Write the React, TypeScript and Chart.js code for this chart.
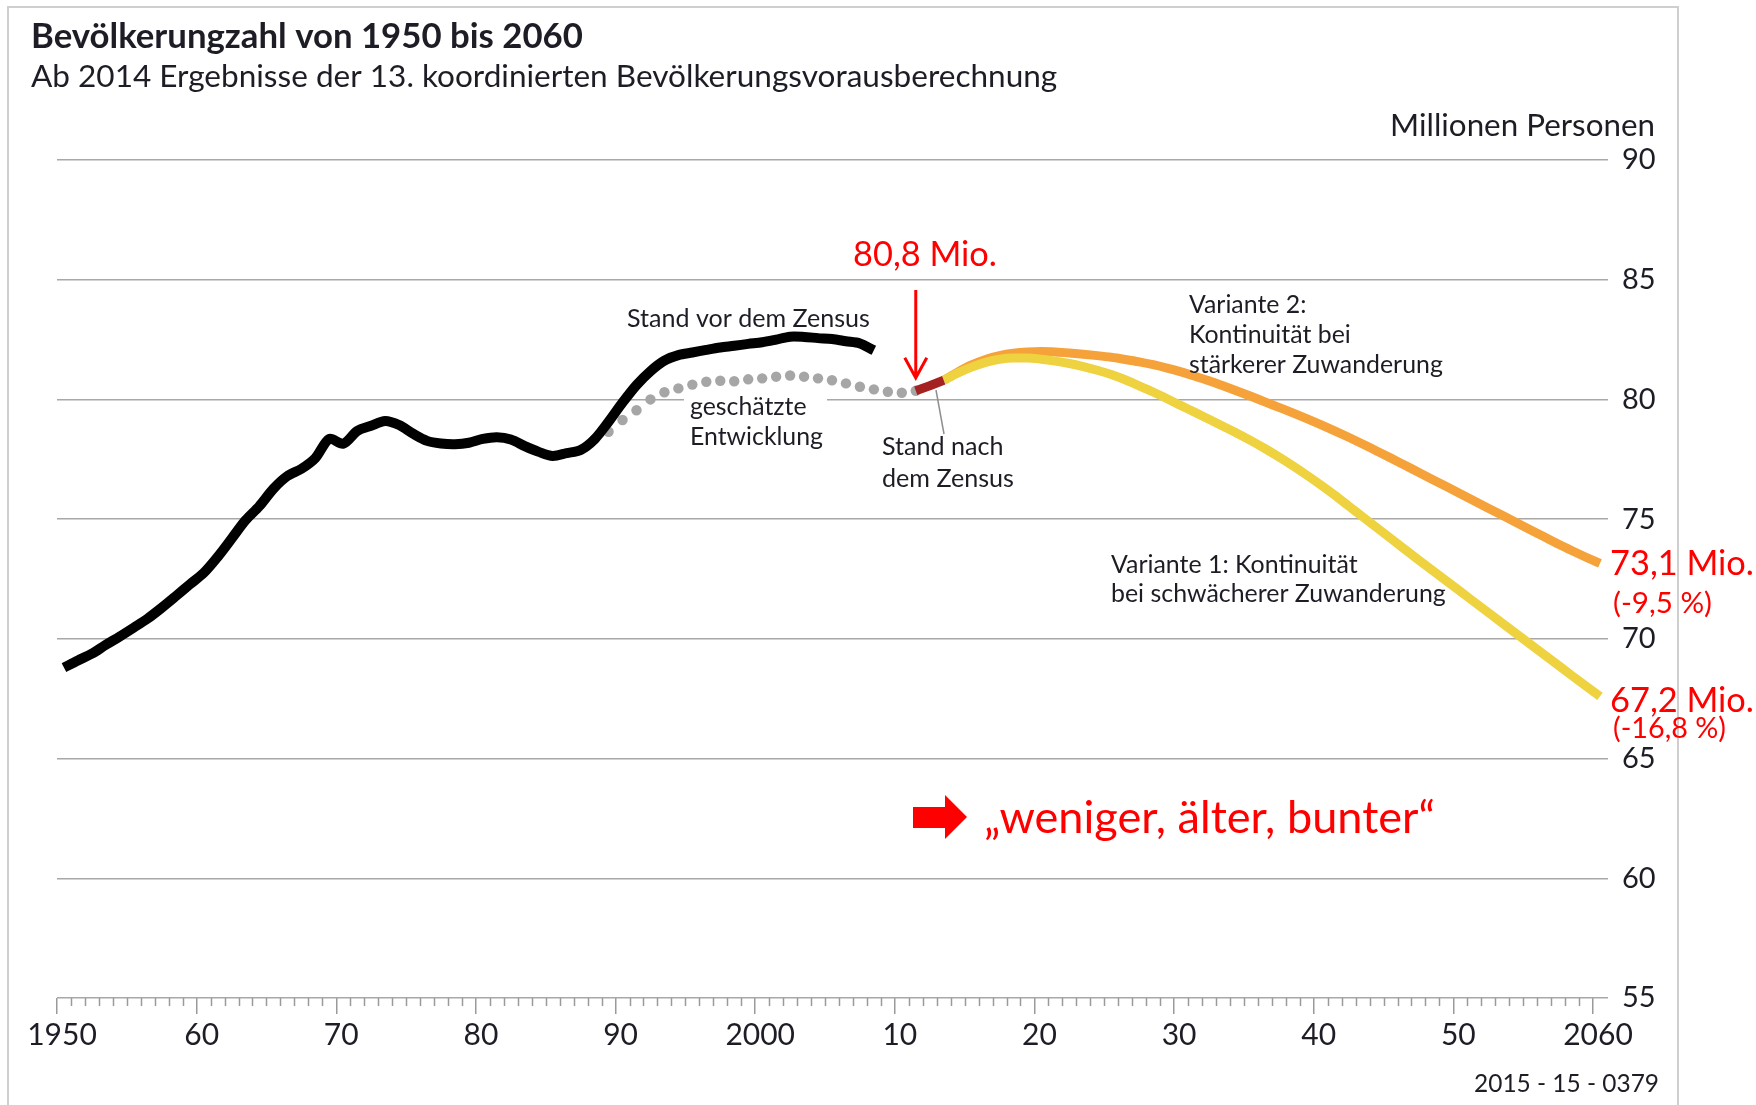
import React, { useEffect, useRef } from "react";
import { Chart, registerables } from "chart.js";

Chart.register(...registerables);

// ---------- data (million persons) ----------
const HIST_START = 1950; // "Stand vor dem Zensus"
const HIST_VALUES = [
  68.8, 69.1, 69.38, 69.75, 70.1, 70.47, 70.85, 71.3, 71.78, 72.27,
  72.75, 73.42, 74.18, 74.95, 75.55, 76.27, 76.8, 77.1, 77.55, 78.35,
  78.15, 78.68, 78.9, 79.1, 78.93, 78.57, 78.27, 78.16, 78.13, 78.19,
  78.35, 78.42, 78.33, 78.05, 77.81, 77.64, 77.76, 77.89, 78.34, 79.07,
  79.87, 80.6, 81.18, 81.62, 81.85, 81.96, 82.07, 82.17, 82.24, 82.32,
  82.39, 82.5, 82.62, 82.61, 82.56, 82.52, 82.43, 82.34, 82.05,
];

const EST_START = 1988; // "geschätzte Entwicklung"
const EST_VALUES = [
  78.34, 78.65, 79.14, 79.55, 80.0, 80.3, 80.46, 80.62, 80.74, 80.78,
  80.76, 80.84, 80.88, 80.95, 81.0, 80.95, 80.88, 80.8, 80.67, 80.53,
  80.42, 80.32, 80.28, 80.36,
];

const CENSUS_START = 2011; // "Stand nach dem Zensus"
const CENSUS_VALUES = [80.36, 80.57, 80.8];

const PROJ_START = 2013;
const VAR1_VALUES = [
  80.8, 81.1, 81.35, 81.55, 81.68, 81.73, 81.73, 81.68, 81.6, 81.5,
  81.37, 81.22, 81.04, 80.82, 80.57, 80.31, 80.03, 79.74, 79.46, 79.17,
  78.88, 78.59, 78.28, 77.95, 77.6, 77.23, 76.84, 76.43, 76.0, 75.55,
  75.1, 74.65, 74.2, 73.75, 73.3, 72.86, 72.42, 71.98, 71.54, 71.1,
  70.66, 70.22, 69.78, 69.34, 68.9, 68.46, 68.03, 67.6,
];
const VAR2_VALUES = [
  80.8, 81.14, 81.44, 81.67, 81.83, 81.93, 81.98, 82.0, 81.98, 81.94,
  81.89, 81.83, 81.76, 81.67, 81.57, 81.45, 81.31, 81.15, 80.97, 80.78,
  80.57, 80.35, 80.13, 79.9, 79.67, 79.44, 79.2, 78.95, 78.69, 78.42,
  78.14, 77.85, 77.56, 77.26, 76.96, 76.66, 76.36, 76.06, 75.76, 75.46,
  75.16, 74.86, 74.56, 74.26, 73.96, 73.68, 73.41, 73.15,
];

const X_TICK_VALUES = [1950, 1960, 1970, 1980, 1990, 2000, 2010, 2020, 2030, 2040, 2050, 2060];
const X_TICK_LABELS = ["1950", "60", "70", "80", "90", "2000", "10", "20", "30", "40", "50", "2060"];
const Y_TICK_VALUES = [55, 60, 65, 70, 75, 80, 85, 90];

// year-end values are placed half a year after the year tick
const SHIFT = 0.5;
const series = (start: number, values: number[]) =>
  values.map((v, i) => ({ x: start + i + SHIFT, y: v }));

// ---------- styling ----------
const FONT = "Lato, 'Open Sans', sans-serif";
const INK = "#1d1d26";
const RED = "#ff0000";
const W = 1756;
const H = 1105;

function fitFont(ctx: CanvasRenderingContext2D, text: string, width: number, weight = "normal") {
  ctx.font = `${weight} 100px ${FONT}`;
  const size = (100 * width) / ctx.measureText(text).width;
  ctx.font = `${weight} ${size}px ${FONT}`;
  return size;
}

function block(
  ctx: CanvasRenderingContext2D,
  texts: string[],
  fitIndex: number,
  width: number,
  x: number,
  y0: number,
  dy: number,
  color: string,
  align: CanvasTextAlign = "left",
  weight = "normal"
) {
  fitFont(ctx, texts[fitIndex], width, weight);
  ctx.fillStyle = color;
  ctx.textAlign = align;
  ctx.textBaseline = "alphabetic";
  texts.forEach((t, i) => ctx.fillText(t, x, y0 + i * dy));
}

const decorPlugin = {
  id: "decor",
  beforeDraw(chart: any) {
    const { ctx, width, height } = chart;
    ctx.save();
    ctx.fillStyle = "#ffffff";
    ctx.fillRect(0, 0, width, height);
    ctx.strokeStyle = "#cfcfcf";
    ctx.lineWidth = 2;
    ctx.strokeRect(8, 7, 1670, height + 30);
    ctx.restore();
  },
  beforeDatasetsDraw(chart: any) {
    const { ctx } = chart;
    ctx.save();
    // white box behind "geschätzte Entwicklung"
    ctx.fillStyle = "#ffffff";
    ctx.fillRect(684, 394, 143, 60);
    // leader line to the census segment
    ctx.strokeStyle = "#8f8f8f";
    ctx.lineWidth = 1.5;
    ctx.beginPath();
    ctx.moveTo(936, 390);
    ctx.lineTo(944, 434);
    ctx.stroke();
    ctx.restore();
  },
  afterDraw(chart: any) {
    const { ctx, chartArea, scales } = chart;
    const xs = scales.x;
    const ys = scales.y;
    ctx.save();

    // minor yearly ticks
    ctx.strokeStyle = "#9a9a9a";
    ctx.lineWidth = 1.5;
    for (let yr = 1950; yr <= 2060; yr++) {
      if (yr % 10 === 0) continue;
      const px = Math.round(xs.getPixelForValue(yr)) + 0.5;
      ctx.beginPath();
      ctx.moveTo(px, chartArea.bottom);
      ctx.lineTo(px, chartArea.bottom + 8);
      ctx.stroke();
    }

    // titles
    block(ctx, ["Bevölkerungzahl von 1950 bis 2060"], 0, 552, 31, 48, 0, INK, "left", "bold");
    block(ctx, ["Ab 2014 Ergebnisse der 13. koordinierten Bevölkerungsvorausberechnung"], 0, 1027, 31, 87, 0, INK);
    block(ctx, ["Millionen Personen"], 0, 265, 1655, 136, 0, INK, "right");

    // annotations
    block(ctx, ["Stand vor dem Zensus"], 0, 243, 627, 327, 0, INK);
    block(ctx, ["geschätzte", "Entwicklung"], 1, 133, 690, 415, 30, INK);
    block(ctx, ["Stand nach", "dem Zensus"], 1, 132, 882, 455, 32, INK);
    block(ctx, ["Variante 2:", "Kontinuität bei", "stärkerer Zuwanderung"], 2, 254, 1189, 313, 30, INK);
    block(ctx, ["Variante 1: Kontinuität", "bei schwächerer Zuwanderung"], 1, 335, 1111, 573, 29, INK);
    block(ctx, ["2015 - 15 - 0379"], 0, 185, 1659, 1092, 0, INK, "right");

    // red annotations
    block(ctx, ["80,8 Mio."], 0, 144, 853, 266, 0, RED);
    block(ctx, ["73,1 Mio."], 0, 144, 1610, 575, 0, RED);
    block(ctx, ["(-9,5 %)"], 0, 99, 1613, 613, 0, RED);
    block(ctx, ["67,2 Mio."], 0, 144, 1610, 712, 0, RED);
    block(ctx, ["(-16,8 %)"], 0, 113, 1613, 738, 0, RED);
    block(ctx, ["\u201eweniger, älter, bunter\u201c"], 0, 451, 984, 833, 0, RED);

    // red arrow pointing at the census value
    const ax = xs.getPixelForValue(CENSUS_START + SHIFT);
    const tipY = ys.getPixelForValue(CENSUS_VALUES[0]) - 13;
    ctx.strokeStyle = RED;
    ctx.lineWidth = 3;
    ctx.lineCap = "butt";
    ctx.beginPath();
    ctx.moveTo(ax, 290);
    ctx.lineTo(ax, tipY);
    ctx.moveTo(ax - 11, tipY - 20);
    ctx.lineTo(ax, tipY);
    ctx.lineTo(ax + 11, tipY - 20);
    ctx.stroke();

    // block arrow
    ctx.fillStyle = RED;
    ctx.beginPath();
    ctx.moveTo(913, 807);
    ctx.lineTo(945, 807);
    ctx.lineTo(945, 795);
    ctx.lineTo(967, 817);
    ctx.lineTo(945, 839);
    ctx.lineTo(945, 828);
    ctx.lineTo(913, 828);
    ctx.closePath();
    ctx.fill();

    ctx.restore();
  },
};

export default function App() {
  const ref = useRef<HTMLCanvasElement | null>(null);

  useEffect(() => {
    if (!ref.current) return;
    const lineCommon = {
      pointRadius: 0,
      fill: false,
      clip: false as any,
      borderCapStyle: "butt" as const,
      borderJoinStyle: "round" as const,
    };
    const chart = new Chart(ref.current, {
      type: "line",
      data: {
        datasets: [
          {
            ...lineCommon,
            label: "Stand vor dem Zensus",
            data: series(HIST_START, HIST_VALUES),
            borderColor: "#000000",
            borderWidth: 10,
            tension: 0.3,
            order: 0,
          },
          {
            ...lineCommon,
            label: "Stand nach dem Zensus",
            data: series(CENSUS_START, CENSUS_VALUES),
            borderColor: "#a52222",
            borderWidth: 9,
            tension: 0,
            order: 1,
          },
          {
            ...lineCommon,
            label: "Variante 1",
            data: series(PROJ_START, VAR1_VALUES),
            borderColor: "#eed23f",
            borderWidth: 9,
            cubicInterpolationMode: "monotone",
            order: 2,
          },
          {
            ...lineCommon,
            label: "Variante 2",
            data: series(PROJ_START, VAR2_VALUES),
            borderColor: "#f5a23a",
            borderWidth: 9,
            cubicInterpolationMode: "monotone",
            order: 3,
          },
          {
            label: "geschätzte Entwicklung",
            data: series(EST_START, EST_VALUES),
            showLine: false,
            clip: false as any,
            pointRadius: 5.2,
            pointBackgroundColor: "#a6a6a6",
            pointBorderWidth: 0,
            order: 4,
          },
        ],
      },
      options: {
        responsive: false,
        animation: false,
        devicePixelRatio: 1,
        layout: { padding: { left: 57, top: 160, right: 0, bottom: 0 } },
        plugins: {
          legend: { display: false },
          tooltip: { enabled: false },
          title: { display: false },
        },
        events: [],
        scales: {
          x: {
            type: "linear",
            position: "bottom",
            min: 1950,
            max: 2060,
            afterBuildTicks: (s: any) => {
              s.ticks = X_TICK_VALUES.map((v) => ({ value: v }));
            },
            afterFit: (s: any) => {
              s.height = H - 998;
            },
            grid: {
              drawOnChartArea: false,
              drawTicks: true,
              tickLength: 16,
              color: "#9a9a9a",
              lineWidth: 1.5,
            },
            border: { display: false },
            ticks: {
              autoSkip: false,
              maxRotation: 0,
              minRotation: 0,
              padding: 3,
              labelOffset: 5,
              color: INK,
              font: { family: FONT, size: 30 },
              callback: (_v: any, i: number) => X_TICK_LABELS[i],
            },
          },
          y: {
            type: "linear",
            position: "right",
            min: 55,
            max: 90,
            afterBuildTicks: (s: any) => {
              s.ticks = Y_TICK_VALUES.map((v) => ({ value: v }));
            },
            afterFit: (s: any) => {
              s.width = W - 1593;
            },
            grid: {
              color: "#a8a8a8",
              lineWidth: 1.5,
              drawTicks: true,
              tickLength: 15,
            },
            border: { display: false },
            ticks: {
              padding: 14,
              color: INK,
              font: { family: FONT, size: 29 },
              callback: (v: any) => String(v),
            },
          },
        },
      },
      plugins: [decorPlugin],
    } as any);

    const fonts = (document as any).fonts;
    if (fonts && fonts.load) {
      Promise.all([fonts.load(`30px Lato`), fonts.load(`bold 30px Lato`)]).then(
        () => chart.update(),
        () => {}
      );
    }
    return () => chart.destroy();
  }, []);

  return (
    <div style={{ position: "absolute", left: 0, top: 0, width: W, height: H, background: "#fff" }}>
      <canvas ref={ref} width={W} height={H} style={{ display: "block", width: W, height: H }} />
    </div>
  );
}
